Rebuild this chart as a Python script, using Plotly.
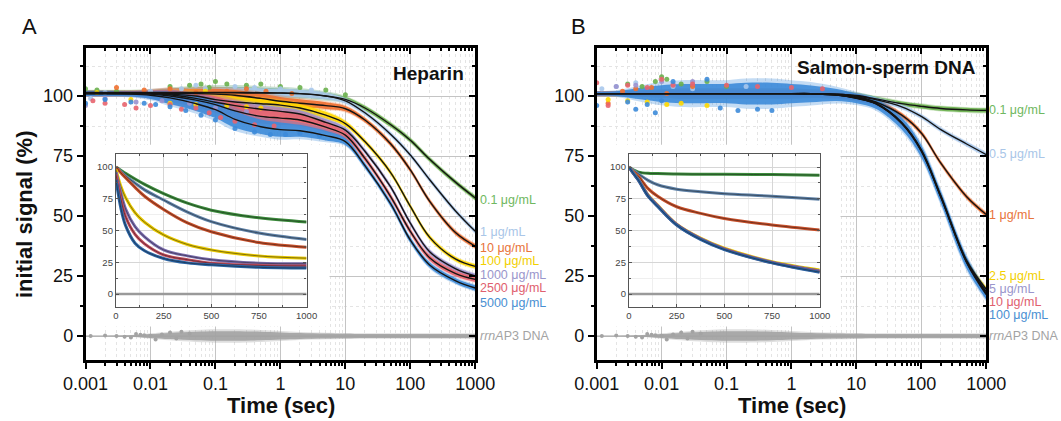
import plotly.graph_objects as go

FONT = "Liberation Sans, Arial, sans-serif"
W, H = 1061, 421

t_main = [0.001, 0.002, 0.005, 0.01, 0.02, 0.05, 0.1, 0.2, 0.5, 1, 2, 5, 10, 20, 50, 100, 200, 500, 1000]
t_inset = [0, 25, 50, 100, 150, 250, 375, 500, 750, 1000]

# ---- panel A: heparin ----
hep_labels = ["0.1 μg/mL", "1 μg/mL", "10 μg/mL", "100 μg/mL", "1000 μg/mL", "2500 μg/mL", "5000 μg/mL"]
hep_label_y = [56.7, 43.5, 36.8, 31.2, 25.6, 19.8, 13.9]
hep_fit_01 = [101.5, 101.5, 101.5, 101.5, 101.5, 101.5, 101.5, 101.5, 101.4, 101.3, 101.0, 100.0, 98.6, 95.0, 88.0, 81.6, 73.5, 64.0, 57.5]
hep_fit_1 = [101.3, 101.3, 101.3, 101.3, 101.3, 101.3, 101.3, 101.3, 101.2, 101.2, 101.0, 100.0, 98.0, 93.0, 84.0, 75.4, 65.0, 52.0, 43.6]
hep_fit_10 = [101.2, 101.2, 101.2, 101.2, 101.1, 101.0, 100.8, 100.3, 99.0, 97.8, 97.0, 96.0, 94.7, 90.0, 80.0, 69.2, 56.0, 43.0, 37.4]
hep_fit_100 = [101.0, 101.0, 101.0, 101.0, 100.8, 100.0, 98.5, 97.5, 96.8, 96.2, 95.0, 92.0, 88.5, 81.0, 68.0, 54.0, 41.0, 32.0, 29.0]
hep_fit_1000 = [101.0, 101.0, 101.0, 101.0, 100.5, 99.0, 97.4, 96.0, 94.5, 93.6, 92.5, 89.0, 85.8, 77.0, 62.0, 47.0, 35.0, 28.0, 25.0]
hep_fit_2500 = [101.0, 101.0, 101.0, 100.8, 100.0, 98.3, 96.4, 93.8, 91.5, 90.8, 90.0, 87.0, 83.7, 74.0, 58.0, 43.6, 32.5, 26.0, 23.6]
hep_fit_5000 = [101.0, 101.0, 100.8, 100.3, 99.2, 96.8, 94.3, 90.3, 87.2, 86.0, 85.5, 83.5, 81.0, 71.0, 55.0, 40.0, 29.5, 23.0, 20.0]
# half width of the point cloud around each fit
hep_spread = [0.8, 0.8, 0.8, 1.0, 1.5, 2.0, 2.2, 2.2, 2.0, 1.8, 1.6, 1.4, 1.1, 0.9, 0.9, 0.9, 0.9, 0.9, 0.9]
hep_spread_wide = [1.0, 1.0, 1.0, 1.5, 2.5, 3.0, 3.5, 3.5, 3.0, 3.0, 2.5, 2.0, 1.4, 1.1, 1.1, 1.1, 1.1, 1.1, 1.1]

hep_in_01 = [100, 97.5, 95.0, 90.5, 86.3, 79.0, 71.5, 66.0, 60.0, 56.7]
hep_in_1 = [100, 96.5, 93.0, 87.3, 82.0, 74.0, 64.5, 57.0, 48.0, 43.0]
hep_in_10 = [100, 95.5, 91.5, 84.0, 77.0, 66.6, 56.0, 49.0, 40.5, 36.8]
hep_in_100 = [98, 85.0, 76.0, 64.0, 56.5, 46.5, 39.0, 34.7, 30.0, 28.2]
hep_in_1000 = [96, 80.0, 67.0, 53.0, 45.0, 34.7, 30.0, 27.0, 24.3, 23.8]
hep_in_2500 = [94, 75.0, 61.0, 47.0, 39.5, 30.8, 27.0, 24.3, 22.5, 22.0]
hep_in_5000 = [90, 68.0, 54.0, 40.0, 34.0, 28.0, 24.5, 23.0, 21.0, 20.4]

# scattered early points (time, signal) per concentration
hep_pts_t = [
    [0.001, 0.0015, 0.003, 0.02, 0.04, 0.06, 0.08, 0.1, 0.15, 0.3, 0.5, 1, 2, 5, 10],
    [0.0012, 0.002, 0.01, 0.03, 0.05, 0.07, 0.2, 0.4, 1, 3],
    [0.003, 0.008, 0.02, 0.05, 0.15, 0.3, 0.6, 1.5],
    [0.0015, 0.005, 0.02, 0.05, 0.07, 0.15, 0.3, 0.5],
    [0.001, 0.002, 0.006, 0.015, 0.04, 0.1, 0.3],
    [0.0013, 0.002, 0.004, 0.006, 0.01, 0.02, 0.03, 0.05, 0.08, 0.12, 0.2, 0.4, 0.8],
    [0.001, 0.002, 0.005, 0.008, 0.012, 0.02, 0.035, 0.06, 0.1, 0.2, 0.4, 0.7, 1.2, 2, 4],
]
hep_pts_y = [
    [103, 102.5, 102, 104, 104.5, 105, 103.5, 106, 105, 104.5, 105, 104, 103.5, 102.5, 100.5],
    [99, 101.5, 102, 103, 104.5, 103, 104, 103.5, 103, 102.5],
    [103.5, 102.5, 103, 101.5, 102, 103, 102, 101],
    [101.5, 98.5, 97, 96.5, 102, 96, 95.5, 95],
    [96, 99, 97.5, 98, 97, 95, 93.5],
    [98, 97, 96.5, 95, 96, 96.5, 94.5, 95, 93, 91, 89.5, 88, 87.5],
    [97, 98.5, 97.5, 97, 96.5, 95.5, 94, 92, 90, 86.5, 85, 84, 84, 84.5, 83.5],
]

# ---- panel B: salmon-sperm DNA ----
ss_labels = ["0.1 μg/mL", "0.5 μg/mL", "1 μg/mL", "2.5 μg/mL", "5 μg/mL", "10 μg/mL", "100 μg/mL"]
ss_label_y = [94.0, 75.7, 50.6, 25.0, 19.5, 14.0, 8.6]
ss_fit_01 = [101, 101, 101, 101, 101, 101, 101, 101, 101, 101, 101, 100.8, 100.2, 98.8, 96.8, 95.7, 94.8, 94.2, 94.0]
ss_fit_05 = [101, 101, 101, 101, 101, 101, 101, 101, 101, 101, 101, 100.7, 100.0, 98.5, 95.5, 91.5, 86.0, 80.0, 75.6]
ss_fit_1 = [101, 101, 101, 101, 101, 101, 101, 101, 101, 101, 101, 100.6, 99.8, 97.5, 92.0, 84.6, 72.0, 58.0, 50.6]
ss_fit_25 = [101, 101, 101, 101, 101, 101, 101, 101, 101, 101, 100.9, 100.5, 99.3, 97.0, 89.0, 77.7, 58.5, 31.5, 19.5]
ss_fit_5 = [101, 101, 101, 101, 101, 101, 101, 101, 101, 101, 100.9, 100.5, 99.2, 96.9, 88.8, 77.4, 58.2, 31.0, 18.5]
ss_fit_10 = [101, 101, 101, 101, 101, 101, 101, 101, 101, 101, 100.9, 100.4, 99.1, 96.8, 88.6, 77.2, 58.0, 30.8, 17.8]
ss_fit_100 = [101, 101, 101, 101, 101, 101, 101, 101, 101, 101, 100.9, 100.4, 99.0, 96.7, 88.5, 77.0, 57.8, 30.5, 17.2]
ss_spread = [0.8, 0.8, 1.0, 1.2, 1.5, 1.5, 1.5, 1.5, 1.5, 1.5, 1.3, 1.2, 1.0, 0.9, 0.9, 0.9, 0.9, 0.9, 0.9]
ss_spread_wide = [0.8, 1.0, 2.5, 3.5, 4.0, 4.0, 4.0, 4.5, 4.5, 4.0, 3.5, 2.5, 2.0, 2.0, 2.5, 2.5, 2.5, 2.5, 2.0]

ss_in_01 = [100, 97.5, 96.0, 95.0, 94.8, 94.5, 94.3, 94.2, 94.0, 93.6]
ss_in_05 = [100, 97.0, 94.5, 89.5, 86.0, 82.5, 80.5, 79.0, 77.0, 74.6]
ss_in_1 = [100, 96.0, 92.5, 83.0, 77.0, 68.7, 63.5, 59.5, 54.3, 50.4]
ss_in_25 = [100, 95.0, 90.0, 78.0, 70.0, 55.0, 44.0, 36.0, 25.5, 19.0]
ss_in_5 = [100, 94.8, 89.8, 77.6, 69.6, 54.7, 43.6, 35.6, 25.0, 18.2]
ss_in_10 = [100, 94.6, 89.6, 77.3, 69.3, 54.5, 43.3, 35.3, 24.7, 17.6]
ss_in_100 = [100, 94.5, 89.5, 77.0, 69.0, 54.3, 43.0, 35.0, 24.5, 17.2]

ss_pts_t = [
    [0.003, 0.005, 0.008, 0.01, 0.012, 0.02, 0.05, 0.1],
    [0.0012, 0.002, 0.004, 0.015, 0.03, 0.2],
    [0.0015, 0.0025, 0.004, 0.007, 0.012, 0.03],
    [0.0015, 0.003, 0.006, 0.012, 0.02, 0.05],
    [0.002, 0.004, 0.01, 0.015, 0.03],
    [0.001, 0.0015, 0.003, 0.006, 0.01, 0.015, 0.03, 0.1, 0.3, 1, 3],
    [0.001, 0.003, 0.004, 0.006, 0.008, 0.01, 0.015, 0.05, 0.08, 0.15, 0.3, 0.5],
]
ss_pts_y = [
    [105, 104, 106, 108, 107, 105, 106, 104],
    [103, 104, 105.5, 104, 103, 104],
    [97, 102, 103, 103.5, 101, 104],
    [98.5, 98, 97.5, 96.5, 97, 96],
    [104, 104.5, 106, 105, 106],
    [105.5, 96, 104.5, 103.5, 107, 104.5, 105, 104.5, 104, 103.5, 103],
    [96, 97.5, 94.5, 96.5, 93, 98, 106, 107, 95, 94, 94.5, 94],
]

# ---- rrnAP3 DNA control (both panels) ----
ctrl_fit = [0] * len(t_main)
ctrl_spread = [0.0, 0.0, 0.3, 0.8, 1.3, 1.8, 2.0, 2.0, 1.8, 1.5, 1.2, 1.0, 0.9, 0.8, 0.8, 0.8, 0.8, 0.8, 0.8]
ctrl_pts_t = [0.0012, 0.002, 0.003, 0.004, 0.005, 0.006, 0.007, 0.008, 0.01, 0.012, 0.015, 0.02, 0.025, 0.03, 0.04]
ctrl_pts_y = [0.0, 0.2, 0.0, -0.3, -0.6, 0.8, 0.5, 0.3, 0.1, -1.5, 0.6, 1.5, -1.0, 1.8, 1.0]

# colours: points, inset lines, labels
pt_col = ["#6ab04c", "#a8c8ec", "#f07030", "#ffd800", "#9b93cf", "#e8646e", "#3d8bd9"]
ln_col = ["#3c8c3c", "#5f82a8", "#c9502a", "#e8c800", "#7a6cae", "#c04a5a", "#2b64a4"]
lab_col = ["#6fb860", "#a9c6e8", "#e8743b", "#f2d000", "#9a96cc", "#e0606e", "#4a8fd2"]
grey = "#a3a3a3"


def rgba(hexc, a):
    h = hexc.lstrip("#")
    return "rgba(%d,%d,%d,%.2f)" % (int(h[0:2], 16), int(h[2:4], 16), int(h[4:6], 16), a)


fig = go.Figure()


def band(t, fit, spread, color, xa, ya, alpha, scale=1.0):
    hi = [f + s * scale for f, s in zip(fit, spread)]
    lo = [f - s * scale for f, s in zip(fit, spread)]
    fig.add_trace(go.Scatter(x=t, y=hi, mode="lines", line=dict(width=0, shape="spline", color=color),
                             xaxis=xa, yaxis=ya, hoverinfo="skip"))
    fig.add_trace(go.Scatter(x=t, y=lo, mode="lines", line=dict(width=0, shape="spline", color=color),
                             fill="tonexty", fillcolor=rgba(color, alpha), xaxis=xa, yaxis=ya, hoverinfo="skip"))


def panel(fits, spreads, pts_t, pts_y, ins, xa, ya, xi, yi):
    # control DNA at 0
    band(t_main, ctrl_fit, ctrl_spread, grey, xa, ya, 0.35, 1.4)
    band(t_main, ctrl_fit, ctrl_spread, grey, xa, ya, 0.9)
    fig.add_trace(go.Scatter(x=ctrl_pts_t, y=ctrl_pts_y, mode="markers",
                             marker=dict(size=4, color=grey), xaxis=xa, yaxis=ya))
    fig.add_trace(go.Scatter(x=[0.001, 1000], y=[0, 0], mode="lines",
                             line=dict(width=1, color=grey), xaxis=xa, yaxis=ya))
    # point clouds
    for i in range(len(fits)):
        band(t_main, fits[i], spreads[i], pt_col[i], xa, ya, 0.3, 1.4)
        band(t_main, fits[i], spreads[i], pt_col[i], xa, ya, 0.9)
    for i in range(len(fits)):
        fig.add_trace(go.Scatter(x=pts_t[i], y=pts_y[i], mode="markers",
                                 marker=dict(size=5, color=pt_col[i], opacity=0.9), xaxis=xa, yaxis=ya))
    # fitted curves
    for i in range(len(fits)):
        fig.add_trace(go.Scatter(x=t_main, y=fits[i], mode="lines",
                                 line=dict(width=1.4, color="#141414", shape="spline"), xaxis=xa, yaxis=ya))
    # inset
    fig.add_trace(go.Scatter(x=[0, 1000], y=[0, 0], mode="lines",
                             line=dict(width=2.5, color="#9a9a9a"), xaxis=xi, yaxis=yi))
    for i in range(len(ins)):
        fig.add_trace(go.Scatter(x=t_inset, y=ins[i], mode="lines",
                                 line=dict(width=3, color=ln_col[i], shape="spline"), xaxis=xi, yaxis=yi))
        fig.add_trace(go.Scatter(x=t_inset, y=ins[i], mode="lines",
                                 line=dict(width=0.8, color="rgba(20,20,20,0.6)", shape="spline"), xaxis=xi, yaxis=yi))


panel([hep_fit_01, hep_fit_1, hep_fit_10, hep_fit_100, hep_fit_1000, hep_fit_2500, hep_fit_5000],
      [hep_spread] * 5 + [hep_spread_wide] * 2, hep_pts_t, hep_pts_y,
      [hep_in_01, hep_in_1, hep_in_10, hep_in_100, hep_in_1000, hep_in_2500, hep_in_5000],
      "x", "y", "x3", "y3")
panel([ss_fit_01, ss_fit_05, ss_fit_1, ss_fit_25, ss_fit_5, ss_fit_10, ss_fit_100],
      [ss_spread] * 6 + [ss_spread_wide], ss_pts_t, ss_pts_y,
      [ss_in_01, ss_in_05, ss_in_1, ss_in_25, ss_in_5, ss_in_10, ss_in_100],
      "x2", "y2", "x4", "y4")

# empty traces so the mirrored tick axes get a subplot to live in
for xa, ya in [("x5", "y"), ("x", "y5"), ("x6", "y2"), ("x2", "y6")]:
    fig.add_trace(go.Scatter(x=[None], y=[None], mode="markers", xaxis=xa, yaxis=ya))


def px(x):
    return x / W


def py(y):
    return 1 - y / H


main_y = [py(360), py(48)]
dom_a = [px(85.5), px(475.3)]
dom_b = [px(596.7), px(986.2)]
in_y = [py(306.7), py(154.3)]
in_a = [px(116), px(306.6)]
in_b = [px(629), px(819.7)]

dec_vals = [0.001, 0.01, 0.1, 1, 10, 100, 1000]
dec_text = ["0.001", "0.01", "0.1", "1", "10", "100", "1000"]


def main_x(dom, anchor):
    return dict(type="log", range=[-3, 3], domain=dom, anchor=anchor, automargin=False,
                showline=True, linecolor="black", linewidth=2.5, mirror=True,
                ticks="outside", ticklen=6, tickwidth=2, tickcolor="black",
                tickmode="array", tickvals=dec_vals, ticktext=dec_text,
                tickfont=dict(size=18, color="#111", family=FONT),
                showgrid=True, gridcolor="#c4c4c4", gridwidth=1, zeroline=False,
                minor=dict(tickmode="linear", dtick="D1", ticks="outside", ticklen=3, tickwidth=1.5,
                           tickcolor="black", showgrid=True, gridcolor="#e4e4e4", griddash="dot"))


def main_y_ax(anchor, labels):
    return dict(range=[-10, 120], domain=main_y, anchor=anchor, automargin=False,
                showline=True, linecolor="black", linewidth=2.5, mirror=True,
                ticks="outside", ticklen=6, tickwidth=2, tickcolor="black",
                tickmode="array", tickvals=[0, 25, 50, 75, 100], showticklabels=labels,
                tickfont=dict(size=18, color="#111", family=FONT),
                showgrid=True, gridcolor="#c4c4c4", gridwidth=1, zeroline=False,
                minor=dict(tickmode="linear", tick0=0, dtick=12.5, ticks="outside", ticklen=3, tickwidth=1.5,
                           tickcolor="black", showgrid=True, gridcolor="#e4e4e4", griddash="dot"))


def over_x(base, anchor):
    return dict(type="log", range=[-3, 3], overlaying=base, side="top", anchor=anchor, automargin=False,
                showline=False, showgrid=False, zeroline=False, showticklabels=False,
                ticks="inside", ticklen=6, tickwidth=2, tickcolor="black",
                tickmode="array", tickvals=dec_vals,
                minor=dict(tickmode="linear", dtick="D1", ticks="inside", ticklen=3, tickwidth=1.5,
                           tickcolor="black", showgrid=False))


def over_y(base, anchor):
    return dict(range=[-10, 120], overlaying=base, side="right", anchor=anchor, automargin=False,
                showline=False, showgrid=False, zeroline=False, showticklabels=False,
                ticks="inside", ticklen=6, tickwidth=2, tickcolor="black",
                tickmode="array", tickvals=[0, 25, 50, 75, 100],
                minor=dict(tickmode="linear", tick0=0, dtick=12.5, ticks="inside", ticklen=3, tickwidth=1.5,
                           tickcolor="black", showgrid=False))


def inset_x(dom, anchor):
    return dict(range=[0, 1000], domain=dom, anchor=anchor, automargin=False,
                showline=True, linecolor="#555", linewidth=1.3, mirror="allticks",
                ticks="inside", ticklen=3, tickwidth=1, tickcolor="#555",
                tickmode="array", tickvals=[0, 250, 500, 750, 1000],
                tickfont=dict(size=9.5, color="#444", family=FONT),
                showgrid=True, gridcolor="#d6d6d6", gridwidth=1, zeroline=False,
                minor=dict(tickmode="linear", tick0=0, dtick=125, ticks="inside", ticklen=2,
                           tickcolor="#555", showgrid=True, gridcolor="#efefef"))


def inset_y(dom, anchor):
    return dict(range=[-10, 110], domain=dom, anchor=anchor, automargin=False,
                showline=True, linecolor="#555", linewidth=1.3, mirror="allticks",
                ticks="inside", ticklen=3, tickwidth=1, tickcolor="#555",
                tickmode="array", tickvals=[0, 25, 50, 75, 100],
                tickfont=dict(size=9.5, color="#444", family=FONT),
                showgrid=True, gridcolor="#d6d6d6", gridwidth=1, zeroline=False,
                minor=dict(tickmode="linear", tick0=0, dtick=12.5, ticks="inside", ticklen=2,
                           tickcolor="#555", showgrid=True, gridcolor="#efefef"))


fig.update_layout(
    width=W, height=H, margin=dict(l=0, r=0, t=0, b=0, autoexpand=False), autosize=False,
    paper_bgcolor="white", plot_bgcolor="white", showlegend=False, hovermode=False,
    font=dict(family=FONT, color="#111"),
    xaxis=main_x(dom_a, "y"), yaxis=main_y_ax("x", True),
    xaxis2=main_x(dom_b, "y2"), yaxis2=main_y_ax("x2", True),
    xaxis3=inset_x(in_a, "y3"), yaxis3=inset_y(in_y, "x3"),
    xaxis4=inset_x(in_b, "y4"), yaxis4=inset_y(in_y, "x4"),
    xaxis5=over_x("x", "y"), yaxis5=over_y("y", "x"),
    xaxis6=over_x("x2", "y2"), yaxis6=over_y("y2", "x2"),
)

# white box behind each inset hides the main grid (above grid, below data)
for xr, yr in [("x", "y"), ("x2", "y2")]:
    fig.add_shape(type="rect", xref=xr, yref=yr,
                  x0=0.0009, x1=5.7, y0=4, y1=79.7, layer="between",
                  fillcolor="white", line=dict(width=0))

ann = []
ann.append(dict(text="A", x=px(29), y=py(27), font=dict(size=22)))
ann.append(dict(text="B", x=px(578), y=py(27), font=dict(size=22)))
ann.append(dict(text="<b>initial signal (%)</b>", x=px(24), y=py(215), textangle=-90, font=dict(size=22)))
ann.append(dict(text="<b>Time (sec)</b>", x=px(281), y=py(405), font=dict(size=22)))
ann.append(dict(text="<b>Time (sec)</b>", x=px(792), y=py(405), font=dict(size=22)))
ann.append(dict(text="<b>Heparin</b>", x=px(466), y=py(73), xanchor="right", font=dict(size=19)))
ann.append(dict(text="<b>Salmon-sperm DNA</b>", x=px(978), y=py(68), xanchor="right", font=dict(size=19)))
for a in ann:
    a.setdefault("xanchor", "center")
    a.update(xref="paper", yref="paper", showarrow=False, yanchor="middle")
    a["font"].update(family=FONT, color="#111")
    fig.add_annotation(**a)

for labels, ys, xpos, yref in [(hep_labels, hep_label_y, px(479), "y"), (ss_labels, ss_label_y, px(988), "y2")]:
    for i in range(len(labels)):
        fig.add_annotation(text=labels[i], x=xpos, y=ys[i], xref="paper", yref=yref, showarrow=False,
                           xanchor="left", yanchor="middle", borderpad=0,
                           font=dict(size=12.5, color=lab_col[i], family=FONT))
    fig.add_annotation(text="<i>rrnA</i>P3 DNA", x=xpos, y=0, xref="paper", yref=yref, showarrow=False,
                       xanchor="left", yanchor="middle", borderpad=0,
                       font=dict(size=12.5, color=grey, family=FONT))

fig.update_traces(showlegend=False)
# the page body has a default 8px margin; drop it so the figure sits at the window corner
fig.write_html("out.html", config={"displayModeBar": False, "responsive": False},
               post_script="document.body.style.margin='0';document.body.style.overflow='hidden';")
